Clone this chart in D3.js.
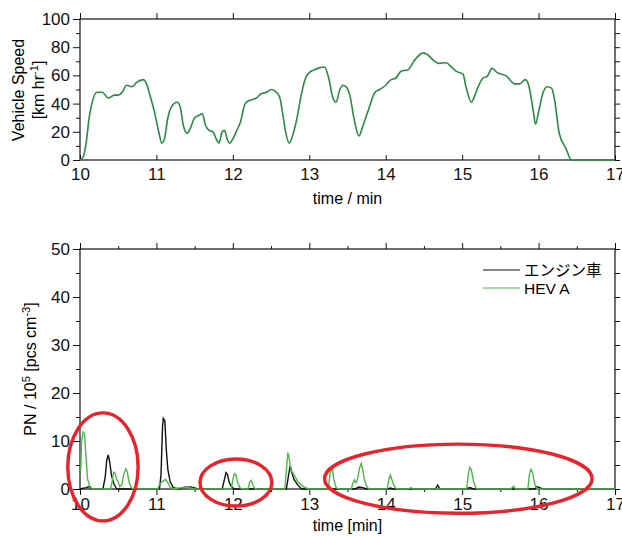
<!DOCTYPE html>
<html>
<head>
<meta charset="utf-8">
<script src="https://cdn.jsdelivr.net/npm/d3@7"></script>
<style>
  body { margin: 0; background: #fff; }
  svg { font-family: "Liberation Sans", Arial, sans-serif; }
  .tick text { font-size: 17px; fill: #111; }
  .domain, .tick line { stroke: #111; }
</style>
</head>
<body>
<svg id="chart" width="622" height="536"></svg>
<script>
// vehicle speed trace (time in min, km/h)
const speedTime = [10.0, 10.04, 10.08, 10.12, 10.17, 10.22, 10.29, 10.37, 10.45, 10.5, 10.55, 10.61, 10.68, 10.74, 10.83, 10.87, 10.92, 10.97, 11.03, 11.07, 11.1, 11.15, 11.2, 11.27, 11.31, 11.35, 11.4, 11.44, 11.5, 11.57, 11.6, 11.64, 11.69, 11.74, 11.79, 11.82, 11.86, 11.89, 11.93, 11.96, 12.0, 12.06, 12.1, 12.16, 12.21, 12.31, 12.37, 12.44, 12.5, 12.55, 12.61, 12.66, 12.69, 12.74, 12.78, 12.84, 12.89, 12.95, 13.0, 13.07, 13.14, 13.2, 13.25, 13.31, 13.35, 13.4, 13.44, 13.48, 13.53, 13.59, 13.65, 13.7, 13.77, 13.86, 13.92, 14.0, 14.07, 14.13, 14.2, 14.29, 14.38, 14.49, 14.55, 14.64, 14.7, 14.79, 14.86, 14.92, 15.01, 15.05, 15.12, 15.16, 15.21, 15.27, 15.33, 15.39, 15.46, 15.58, 15.69, 15.75, 15.83, 15.87, 15.93, 15.96, 16.0, 16.06, 16.11, 16.17, 16.21, 16.27, 16.36, 16.43, 17.0];
const speedValue = [0, 2, 12, 30, 43, 48, 48, 44, 46, 46, 48, 53, 52, 55, 57, 54, 45, 35, 20, 12, 14, 30, 38, 41, 38, 25, 19, 22, 30, 32, 33, 25, 21, 20, 14, 12, 20, 21, 14, 12, 15, 22, 27, 40, 42, 44, 47, 48, 50, 49, 45, 30, 20, 12, 17, 30, 45, 58, 62, 64, 65.5, 66, 59, 44, 41, 50, 53, 52, 46, 28, 17, 24, 35, 48, 50, 53, 57, 58, 63, 64, 71, 76, 74.5, 70, 68.5, 69, 66, 63, 61, 52, 41, 45, 52, 58, 59.5, 65, 62, 59.5, 54, 54, 57, 53, 35, 25.5, 34, 48, 52, 51, 42.5, 19, 8, 0, 0];

// particle number, 10^5 pcs/cm3
const engineTime = [10.0, 10.08, 10.12, 10.15, 10.3, 10.33, 10.35, 10.37, 10.39, 10.41, 10.44, 10.48, 11.04, 11.06, 11.08, 11.09, 11.11, 11.13, 11.15, 11.18, 11.22, 11.3, 11.35, 11.45, 11.5, 11.55, 11.86, 11.89, 11.91, 11.93, 11.95, 11.98, 12.02, 12.7, 12.73, 12.75, 12.77, 12.8, 12.85, 12.9, 13.6, 13.65, 13.7, 13.75, 14.03, 14.06, 14.1, 14.65, 14.68, 14.71, 15.05, 15.1, 15.15, 15.95, 15.98, 16.03, 16.05, 17.0];
const engineValue = [0, 0.3, 0.5, 0, 0, 2.5, 6.0, 7.1, 5.5, 3, 1.2, 0, 0, 3, 13, 14.7, 14.2, 8, 4, 1.5, 0.3, 0, 0.3, 0.4, 0.2, 0, 0, 2, 3.4, 3.0, 1.5, 0.5, 0, 0, 3, 4.8, 3.5, 2, 0.8, 0, 0, 0.4, 0.3, 0, 0, 0.2, 0, 0, 0.8, 0, 0, 0.3, 0, 0, 0.5, 0.2, 0, 0];
const hevTime = [10.0, 10.01, 10.02, 10.04, 10.06, 10.08, 10.1, 10.13, 10.16, 10.4, 10.42, 10.44, 10.46, 10.48, 10.5, 10.52, 10.55, 10.57, 10.6, 10.62, 10.64, 10.67, 10.7, 11.02, 11.04, 11.08, 11.12, 11.15, 11.18, 11.22, 11.35, 11.4, 11.45, 11.5, 11.98, 12.0, 12.02, 12.04, 12.06, 12.09, 12.12, 12.2, 12.22, 12.24, 12.26, 12.29, 12.68, 12.7, 12.72, 12.74, 12.76, 12.8, 12.85, 12.92, 12.99, 13.25, 13.27, 13.3, 13.32, 13.35, 13.38, 13.55, 13.57, 13.59, 13.61, 13.63, 13.66, 13.68, 13.7, 13.72, 13.75, 13.78, 14.02, 14.04, 14.06, 14.09, 14.12, 14.15, 14.3, 14.33, 14.36, 15.06, 15.08, 15.1, 15.12, 15.15, 15.18, 15.2, 15.64, 15.67, 15.7, 15.86, 15.88, 15.9, 15.92, 15.95, 15.98, 17.0];
const hevValue = [4, 4, 10, 11.9, 11.5, 6, 2, 0.5, 0, 0, 1.5, 3.5, 3.3, 2, 1.5, 0.5, 1, 3, 4.2, 3.5, 1.5, 0.3, 0, 0, 1, 1.6, 2.0, 1.3, 0.3, 0, 0.3, 0.4, 0.2, 0, 0, 2, 3.2, 3.0, 1.5, 0.3, 0, 0, 1.5, 1.8, 1.0, 0, 0, 4, 7.6, 6, 4, 3, 1.5, 0.5, 0, 0, 3, 4.8, 2, 0.3, 0, 0, 1.2, 1.9, 1.3, 2, 4.5, 5.3, 4, 2, 0.5, 0, 0, 2, 2.9, 1.5, 0.3, 0, 0, 0.3, 0, 0, 3, 4.5, 4, 1.5, 0.2, 0, 0, 0.6, 0, 0, 3, 4.1, 3.5, 1, 0, 0];

const legendNames = ["エンジン車", "HEV A"];
const xTicks = [10, 11, 12, 13, 14, 15, 16, 17];

// red highlight ellipses: centre (min, PN), radii (min, PN)
const highlightCx = [10.3, 12.04, 14.95];
const highlightCy = [4.6, 1.35, 2.15];
const highlightRx = [0.46, 0.47, 1.75];
const highlightRy = [11.25, 4.9, 7.2];

const speedGreen = "#2b8a45";
const hevGreen = "#4cb848";
const markRed = "#e8232b";

const svg = d3.select("#chart");
const left = 80, right = 615;

const x = d3.scaleLinear().domain([10, 17]).range([left, right]);
const ySpeed = d3.scaleLinear().domain([0, 100]).range([160, 19]);
const yPN = d3.scaleLinear().domain([0, 50]).range([489, 249]);

function frame(y, top, bottom, yMajor, yMinor, bottomInward, bottomMinor) {
    const g = svg.append("g");
    // major + minor ticks on the left / right
    g.append("g").attr("transform", `translate(${left},0)`)
        .call(d3.axisLeft(y).tickValues(yMinor).tickSize(4).tickFormat(""));
    g.append("g").attr("transform", `translate(${left},0)`)
        .call(d3.axisLeft(y).tickValues(yMajor).tickSize(7).tickPadding(3));
    g.append("g").attr("transform", `translate(${right},0)`)
        .call(d3.axisRight(y).tickValues(yMinor.concat(yMajor)).tickSize(5).tickFormat(""));
    // top
    g.append("g").attr("transform", `translate(0,${top})`)
        .call(d3.axisTop(x).tickValues(xTicks).tickSize(6).tickFormat(""));
    if (bottomMinor) {
        g.append("g").attr("transform", `translate(0,${top})`)
            .call(d3.axisTop(x).tickValues(bottomMinor).tickSize(3).tickFormat(""));
    }
    // bottom
    g.append("g").attr("transform", `translate(0,${bottom})`)
        .call(d3.axisBottom(x).tickValues(xTicks).tickSize(bottomInward ? -5 : 6).tickPadding(bottomInward ? 8 : 3).tickFormat(d3.format("d")));
    if (bottomMinor) {
        g.append("g").attr("transform", `translate(0,${bottom})`)
            .call(d3.axisBottom(x).tickValues(bottomMinor).tickSize(3).tickFormat(""));
    }
    g.selectAll(".domain").remove();
    g.append("rect").attr("x", left).attr("y", top)
        .attr("width", right - left).attr("height", bottom - top)
        .attr("fill", "none").attr("stroke", "#111").attr("stroke-width", 1.2);
    return g;
}

// ---- top panel: vehicle speed
frame(ySpeed, 19, 160, d3.range(0, 101, 20), d3.range(10, 100, 20), true, null);

const speedPts = speedTime.map((t, i) => [t, speedValue[i]]);
svg.append("path")
    .datum(speedPts)
    .attr("fill", "none").attr("stroke", speedGreen).attr("stroke-width", 1.6)
    .attr("d", d3.line().x(d => x(d[0])).y(d => ySpeed(d[1])).curve(d3.curveMonotoneX));

svg.append("text").attr("x", (left + right) / 2).attr("y", 204)
    .attr("text-anchor", "middle").attr("font-size", 16).text("time / min");

const speedLabel = svg.append("text").attr("transform", "translate(0,90) rotate(-90)")
    .attr("text-anchor", "middle").attr("font-size", 16);
speedLabel.append("tspan").attr("x", 0).attr("y", 24).text("Vehicle Speed");
const unit = speedLabel.append("tspan").attr("x", 0).attr("y", 44);
unit.append("tspan").text("[km hr");
unit.append("tspan").attr("dy", -6).attr("font-size", 11).text("-1");
unit.append("tspan").attr("dy", 6).text("]");

// ---- bottom panel: particle number
const halfTicks = d3.range(10.5, 17, 1);
frame(yPN, 249, 489, d3.range(0, 51, 10), d3.range(5, 50, 10), false, halfTicks);

const pnLine = d3.line().x(d => x(d[0])).y(d => yPN(d[1]));
const series = [
    { name: legendNames[0], color: "#111", pts: engineTime.map((t, i) => [t, engineValue[i]]) },
    { name: legendNames[1], color: hevGreen, pts: hevTime.map((t, i) => [t, hevValue[i]]) }
];
svg.selectAll("path.pn").data(series).enter().append("path")
    .attr("class", "pn")
    .attr("fill", "none").attr("stroke", d => d.color).attr("stroke-width", 1.4)
    .attr("d", d => pnLine(d.pts));

// legend
const lg = svg.append("g").attr("transform", "translate(483,270)");
series.forEach((s, i) => {
    lg.append("line").attr("x1", 0).attr("x2", 37).attr("y1", i * 18).attr("y2", i * 18)
        .attr("stroke", s.color).attr("stroke-width", 1.2);
    lg.append("text").attr("x", 41).attr("y", i * 18 + 6).attr("font-size", 15.5)
        .attr("font-family", "'Liberation Sans', 'Noto Sans CJK JP', sans-serif")
        .text(s.name);
});

svg.append("text").attr("x", (left + right) / 2).attr("y", 531)
    .attr("text-anchor", "middle").attr("font-size", 16).text("time [min]");

const pnLabel = svg.append("text").attr("transform", "translate(36,369) rotate(-90)")
    .attr("text-anchor", "middle").attr("font-size", 16);
pnLabel.append("tspan").text("PN / 10");
pnLabel.append("tspan").attr("dy", -6).attr("font-size", 11).text("5");
pnLabel.append("tspan").attr("dy", 6).text(" [pcs cm");
pnLabel.append("tspan").attr("dy", -6).attr("font-size", 11).text("-3");
pnLabel.append("tspan").attr("dy", 6).text("]");

// highlight ellipses
svg.selectAll("ellipse.mark").data(highlightCx).enter().append("ellipse")
    .attr("class", "mark")
    .attr("cx", d => x(d))
    .attr("cy", (d, i) => yPN(highlightCy[i]))
    .attr("rx", (d, i) => x(10 + highlightRx[i]) - x(10))
    .attr("ry", (d, i) => yPN(0) - yPN(highlightRy[i]))
    .attr("fill", "none").attr("stroke", markRed).attr("stroke-width", 3.4);
</script>
</body>
</html>
